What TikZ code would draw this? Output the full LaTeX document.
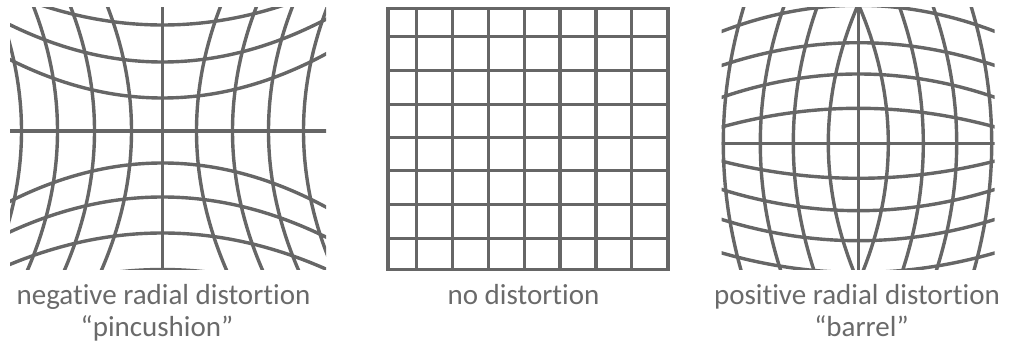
\documentclass[tikz,border=0pt]{standalone}
\usepackage{fontspec}
\setmainfont{Carlito}[Ligatures=NoCommon]
\definecolor{gridgray}{HTML}{666666}
\definecolor{textgray}{HTML}{6A6A6A}
\begin{document}
\begin{tikzpicture}[x=1pt,y=-1pt,
  gridline/.style={draw=gridgray, line width=3.4pt},
  lbl/.style={text=textgray, font=\fontsize{29}{31}\selectfont, inner sep=0pt, anchor=base}]
\useasboundingbox (0,0) rectangle (1016,344);

% ---------- pincushion ----------
\begin{scope}
  \clip (10,8) rectangle (326,269.5);
  \foreach \o/\c in {-106/13.5,-69/16,-33/16.5,32/16.5,66/15,102/13.5,138.5/12.5} {
    \draw[gridline] plot[domain=0:340, samples=70, smooth]
      (\x, {131+\o+sign(\o)*\c*((\x-162.5)/100)^2});
  }
  \draw[gridline] (0,131) -- (340,131);
  \foreach \p in {-141,-105,-68,-31,34,70,106,141} {
    \draw[gridline] plot[domain=0:280, samples=70, smooth, variable=\t]
      ({162.5+\p+sign(\p)*15.5*((\t-131)/100)^2}, \t);
  }
  \draw[gridline] (162.5,0) -- (162.5,280);
\end{scope}

% ---------- no distortion ----------
\draw[gridline] (388,8.3) rectangle (668,269.3);
\foreach \gx in {416.7,452.7,488.3,524.3,560,596,631.7}
  \draw[gridline] (\gx,8.3) -- (\gx,269.3);
\foreach \gy in {36.7,70.7,104.3,137.3,170.7,204.3,238.3}
  \draw[gridline] (388,\gy) -- (668,\gy);

% ---------- barrel ----------
\begin{scope}
  \clip (721.5,8) rectangle (994.5,270);
  \foreach \o/\c in {-138/14,-100.6/12.2,-69.3/12.5,-35/10,35/9.2,67.4/11.4,97.4/11.4,129.2/10.5} {
    \draw[gridline] plot[domain=710:1010, samples=70, smooth]
      (\x, {143.3+\o-sign(\o)*\c*((\x-858.3)/100)^2});
  }
  \draw[gridline] (710,143.3) -- (1010,143.3);
  \foreach \p/\c in {-135/11,-98/12.6,-65/12.8,-30/15.5,30/15.5,65/12.8,98.4/12.6,133.4/11} {
    \draw[gridline] plot[domain=0:280, samples=70, smooth, variable=\t]
      ({858.3+\p-sign(\p)*\c*((\t-143.3)/100)^2}, \t);
  }
  \draw[gridline] (858.3,0) -- (858.3,280);
\end{scope}

% ---------- labels ----------
\node[lbl] (neg) at (163.5,305) {negative radial distortion};
\node[lbl] (pin) at (157,336) {“pincushion”};
\node[lbl] (none) at (523.5,305) {no distortion};
\node[lbl] (pos) at (857,305) {positive radial distortion};
\node[lbl] (bar) at (861.5,336) {“barrel”};
\end{tikzpicture}
\end{document}
